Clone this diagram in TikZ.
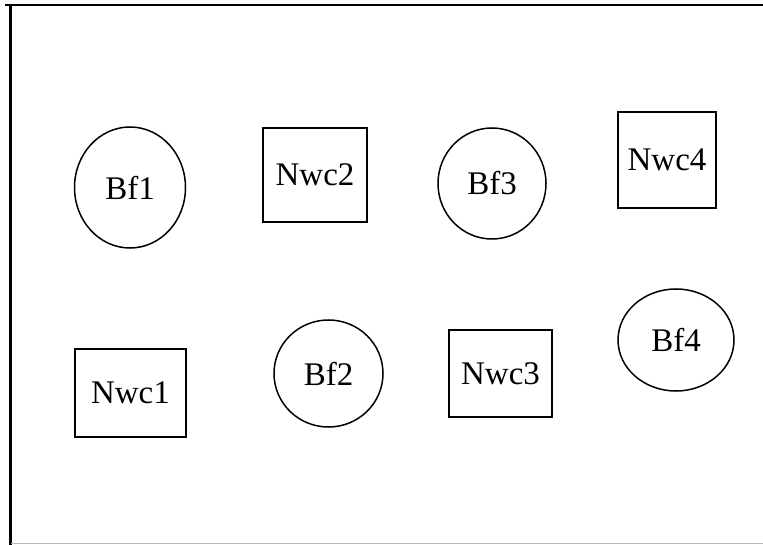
\documentclass[tikz,border=0pt]{standalone}
\usepackage{fontspec}
\setmainfont{Liberation Serif}
\usetikzlibrary{shapes.geometric}
\begin{document}
\begin{tikzpicture}[x=1pt,y=-1pt,
  lbl/.style={font=\fontsize{33}{38}\selectfont, inner sep=0pt},
  bfnode/.style={lbl, draw, line width=1.5pt, ellipse},
  nwcnode/.style={lbl, draw, line width=1.7pt, rectangle}]
  \useasboundingbox (0,0) rectangle (763,545);
  % page frame
  \draw[line width=2pt] (5,5) -- (763,5);
  \draw[line width=2.4pt] (10.5,5) -- (10.5,545);
  \draw[line width=1pt, black!28] (10.5,543.5) -- (763,543.5);
  % top row
  \node[bfnode, minimum width=111pt, minimum height=121pt] (bf1) at (130,187.5) {Bf1};
  \node[nwcnode, minimum width=104pt, minimum height=94pt] (nwc2) at (315,175) {Nwc2};
  \node[bfnode, minimum width=108pt, minimum height=111pt] (bf3) at (492,183.5) {Bf3};
  \node[nwcnode, minimum width=98pt, minimum height=96pt] (nwc4) at (667,160) {Nwc4};
  % bottom row
  \node[nwcnode, minimum width=111pt, minimum height=88pt] (nwc1) at (130.5,393) {Nwc1};
  \node[bfnode, minimum width=109pt, minimum height=107pt] (bf2) at (328.5,373.5) {Bf2};
  \node[nwcnode, minimum width=103pt, minimum height=87pt] (nwc3) at (500.5,373.5) {Nwc3};
  \node[bfnode, minimum width=116pt, minimum height=102pt] (bf4) at (676,340) {Bf4};
\end{tikzpicture}
\end{document}
